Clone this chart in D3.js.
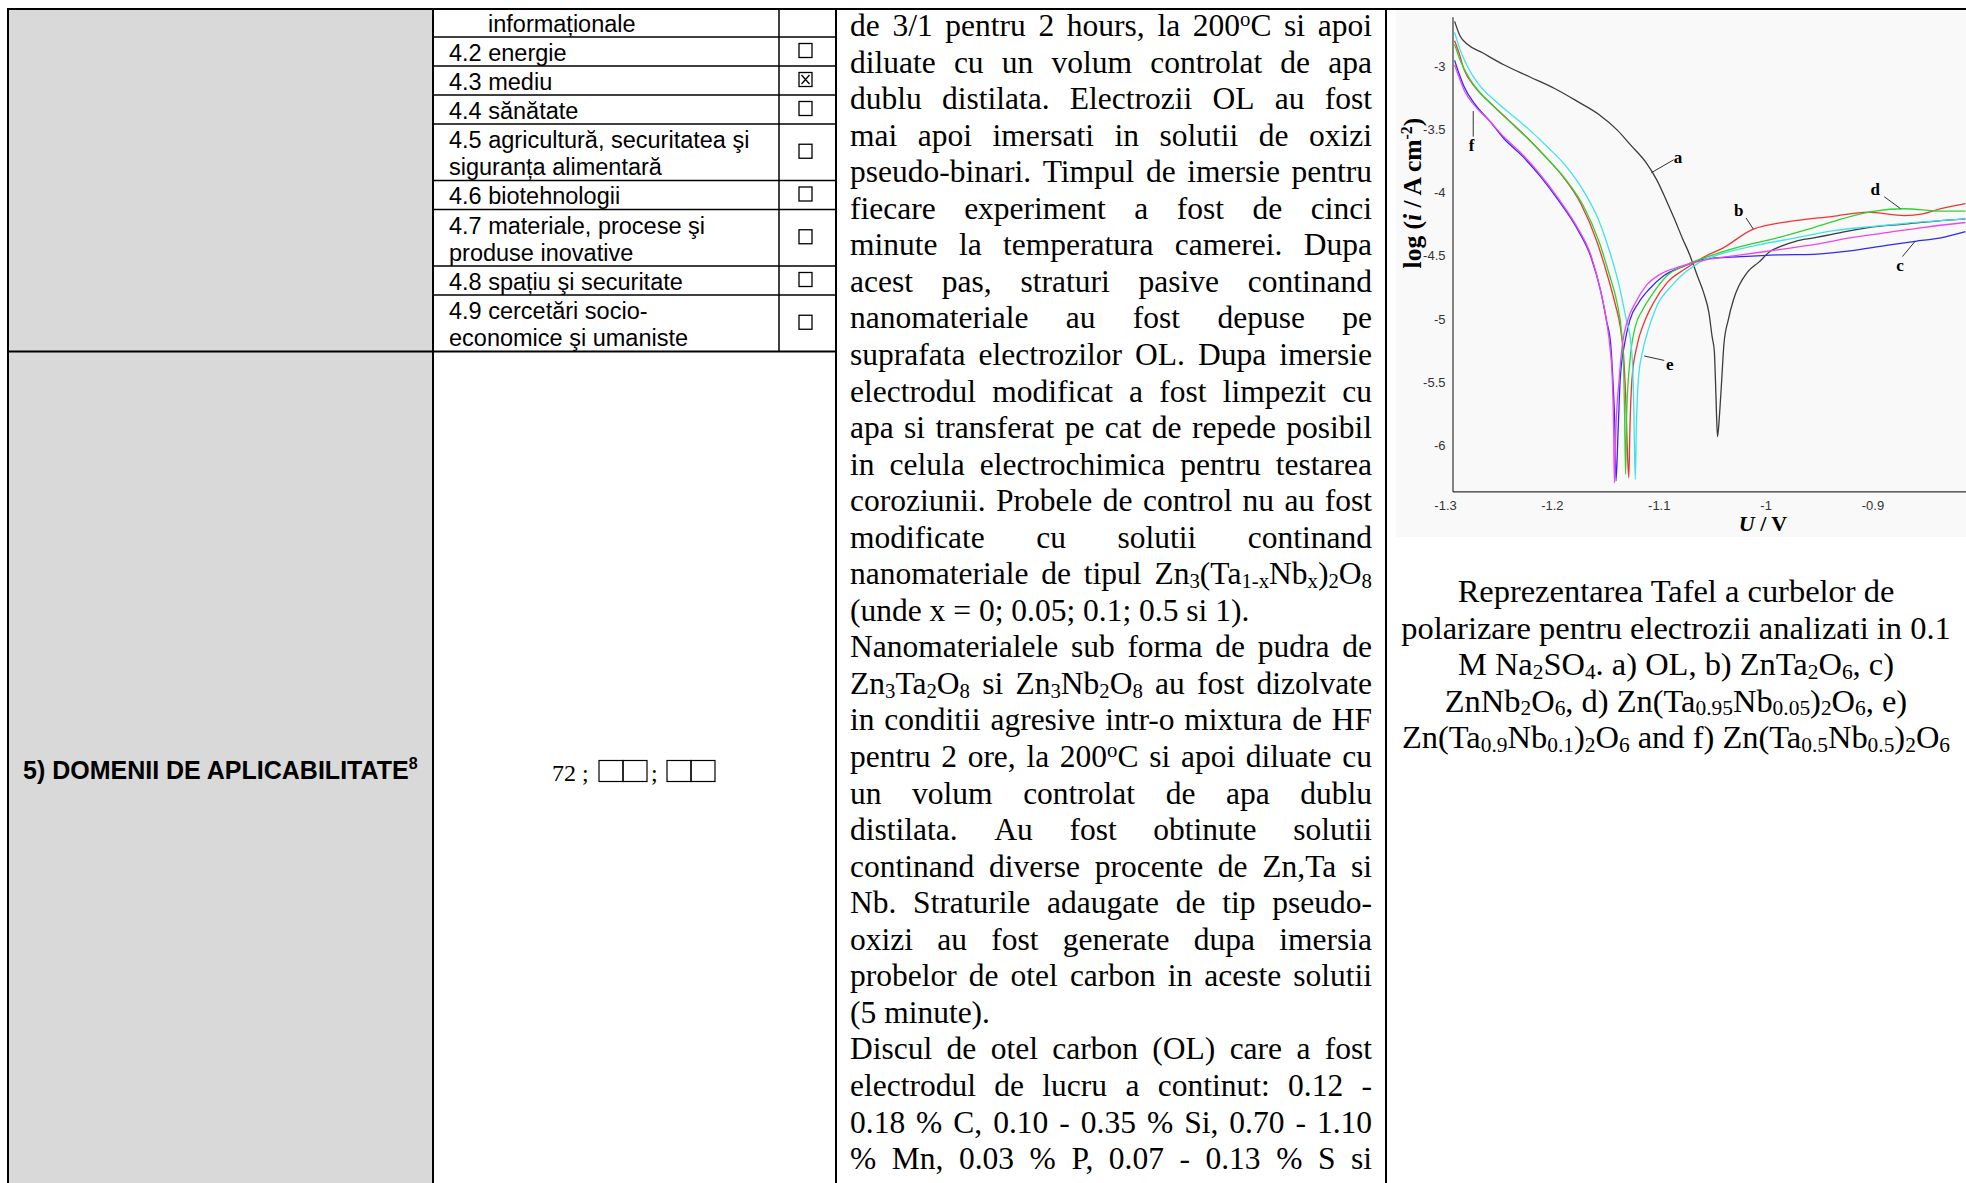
<!DOCTYPE html>
<html>
<head>
<meta charset="utf-8">
<script src="https://cdn.jsdelivr.net/npm/d3@7"></script>
<style>
  body { margin: 0; background: #fff; }
  svg { display: block; }
</style>
</head>
<body>
<script>
// ---------- data ----------
// left table: domain rows (lines of text) and checkbox state
const domainRows = [
    ['informaționale'],
    ['4.2 energie'],
    ['4.3 mediu'],
    ['4.4 sănătate'],
    ['4.5 agricultură, securitatea şi', 'siguranța alimentară'],
    ['4.6 biotehnologii'],
    ['4.7 materiale, procese şi', 'produse inovative'],
    ['4.8 spațiu şi securitate'],
    ['4.9 cercetări socio-', 'economice şi umaniste']
];
const domainChecked = [null, false, true, false, false, false, false, false, false];

const sectionTitle = '5) DOMENII DE APLICABILITATE';
const sectionNote = '8';
const sectionCode = '72';

// body text, one entry per printed line; _{..} subscript, ^{..} superscript
const bodyLines = [
    'de 3/1 pentru 2 hours, la 200^{o}C si apoi',
    'diluate cu un volum controlat de apa',
    'dublu distilata. Electrozii OL au fost',
    'mai apoi imersati in solutii de oxizi',
    'pseudo-binari. Timpul de imersie pentru',
    'fiecare experiment a fost de cinci',
    'minute la temperatura camerei. Dupa',
    'acest pas, straturi pasive continand',
    'nanomateriale au fost depuse pe',
    'suprafata electrozilor OL. Dupa imersie',
    'electrodul modificat a fost limpezit cu',
    'apa si transferat pe cat de repede posibil',
    'in celula electrochimica pentru testarea',
    'coroziunii. Probele de control nu au fost',
    'modificate cu solutii continand',
    'nanomateriale de tipul Zn_{3}(Ta_{1-x}Nb_{x})_{2}O_{8}',
    '(unde x = 0; 0.05; 0.1; 0.5 si 1).',
    'Nanomaterialele sub forma de pudra de',
    'Zn_{3}Ta_{2}O_{8} si Zn_{3}Nb_{2}O_{8} au fost dizolvate',
    'in conditii agresive intr-o mixtura de HF',
    'pentru 2 ore, la 200^{o}C si apoi diluate cu',
    'un volum controlat de apa dublu',
    'distilata. Au fost obtinute solutii',
    'continand diverse procente de Zn,Ta si',
    'Nb. Straturile adaugate de tip pseudo-',
    'oxizi au fost generate dupa imersia',
    'probelor de otel carbon in aceste solutii',
    '(5 minute).',
    'Discul de otel carbon (OL) care a fost',
    'electrodul de lucru a continut: 0.12 -',
    '0.18 % C, 0.10 - 0.35 % Si, 0.70 - 1.10',
    '% Mn, 0.03 % P, 0.07 - 0.13 % S si'
];
const paragraphEnds = [16, 27];

const captionLines = [
    'Reprezentarea Tafel a curbelor de',
    'polarizare pentru electrozii analizati in 0.1',
    'M Na_{2}SO_{4}. a) OL, b) ZnTa_{2}O_{6}, c)',
    'ZnNb_{2}O_{6}, d) Zn(Ta_{0.95}Nb_{0.05})_{2}O_{6}, e)',
    'Zn(Ta_{0.9}Nb_{0.1})_{2}O_{6} and f) Zn(Ta_{0.5}Nb_{0.5})_{2}O_{6}'
];

// chart: U / V against log(i / A cm-2)
const voltTicks = [-1.3, -1.2, -1.1, -1.0, -0.9];
const logTicks = [-3, -3.5, -4, -4.5, -5, -5.5, -6];
const voltRange = [-1.293, -0.8125];
const logRange = [-2.606, -6.367];

const curveA = [
    [-1.291, -2.642], [-1.286, -2.756], [-1.279, -2.824], [-1.265, -2.891], [-1.245, -2.986],
    [-1.221, -3.081], [-1.197, -3.176], [-1.177, -3.272], [-1.156, -3.380], [-1.139, -3.502],
    [-1.126, -3.625], [-1.112, -3.760], [-1.102, -3.896], [-1.093, -4.059], [-1.086, -4.195],
    [-1.078, -4.358], [-1.071, -4.493], [-1.064, -4.656], [-1.058, -4.792], [-1.053, -4.955],
    [-1.050, -5.145], [-1.048, -5.254], [-1.047, -5.471], [-1.046, -5.742], [-1.045, -5.932],
    [-1.043, -5.742], [-1.041, -5.471], [-1.039, -5.199], [-1.035, -5.009], [-1.030, -4.846],
    [-1.025, -4.738], [-1.017, -4.629], [-1.006, -4.548], [-0.996, -4.466], [-0.986, -4.425],
    [-0.972, -4.385], [-0.955, -4.358], [-0.938, -4.330], [-0.904, -4.276], [-0.870, -4.249],
    [-0.836, -4.222], [-0.813, -4.208]
];
const curveB = [
    [-1.291, -2.796], [-1.287, -2.891], [-1.282, -3.027], [-1.272, -3.163], [-1.258, -3.285],
    [-1.241, -3.421], [-1.224, -3.557], [-1.207, -3.706], [-1.190, -3.869], [-1.173, -4.086],
    [-1.158, -4.385], [-1.148, -4.656], [-1.141, -4.874], [-1.136, -5.064], [-1.133, -5.281],
    [-1.131, -5.607], [-1.129, -6.123], [-1.128, -6.258], [-1.127, -5.878], [-1.125, -5.471],
    [-1.120, -5.199], [-1.114, -5.036], [-1.105, -4.874], [-1.092, -4.711], [-1.075, -4.602],
    [-1.057, -4.507], [-1.040, -4.439], [-1.012, -4.290], [-0.972, -4.222], [-0.938, -4.189],
    [-0.904, -4.154], [-0.870, -4.181], [-0.853, -4.168], [-0.836, -4.127], [-0.813, -4.086]
];
const curveC = [
    [-1.291, -2.951], [-1.287, -3.054], [-1.282, -3.163], [-1.272, -3.299], [-1.258, -3.434],
    [-1.245, -3.570], [-1.228, -3.706], [-1.211, -3.869], [-1.194, -4.059], [-1.177, -4.276],
    [-1.163, -4.521], [-1.154, -4.792], [-1.149, -5.009], [-1.145, -5.199], [-1.143, -5.471],
    [-1.141, -5.878], [-1.140, -6.285], [-1.138, -5.878], [-1.136, -5.471], [-1.132, -5.199],
    [-1.127, -5.009], [-1.119, -4.874], [-1.109, -4.765], [-1.095, -4.656], [-1.078, -4.588],
    [-1.057, -4.526], [-1.023, -4.507], [-0.989, -4.493], [-0.955, -4.488], [-0.921, -4.461],
    [-0.887, -4.417], [-0.860, -4.385], [-0.836, -4.358], [-0.813, -4.309]
];
const curveD = [
    [-1.291, -2.824], [-1.286, -2.946], [-1.279, -3.068], [-1.269, -3.190], [-1.255, -3.312],
    [-1.238, -3.448], [-1.221, -3.584], [-1.204, -3.733], [-1.187, -3.896], [-1.170, -4.113],
    [-1.156, -4.385], [-1.146, -4.656], [-1.139, -4.874], [-1.135, -5.091], [-1.133, -5.335],
    [-1.132, -5.742], [-1.131, -6.231], [-1.130, -5.742], [-1.127, -5.335], [-1.122, -5.064],
    [-1.115, -4.928], [-1.105, -4.792], [-1.092, -4.656], [-1.075, -4.575], [-1.054, -4.507],
    [-1.023, -4.426], [-0.989, -4.358], [-0.955, -4.276], [-0.921, -4.189], [-0.898, -4.146],
    [-0.870, -4.127], [-0.836, -4.146], [-0.813, -4.146]
];
const curveE = [
    [-1.291, -2.729], [-1.286, -2.864], [-1.279, -3.000], [-1.269, -3.136], [-1.255, -3.258],
    [-1.238, -3.380], [-1.221, -3.502], [-1.204, -3.638], [-1.187, -3.787], [-1.170, -3.991],
    [-1.156, -4.222], [-1.146, -4.466], [-1.137, -4.738], [-1.131, -4.982], [-1.126, -5.199],
    [-1.124, -5.471], [-1.123, -5.878], [-1.122, -6.272], [-1.121, -5.878], [-1.119, -5.471],
    [-1.115, -5.254], [-1.110, -5.091], [-1.102, -4.901], [-1.088, -4.738], [-1.075, -4.629],
    [-1.061, -4.548], [-1.040, -4.480], [-1.006, -4.412], [-0.972, -4.358], [-0.938, -4.303],
    [-0.904, -4.271], [-0.870, -4.244], [-0.813, -4.208]
];
const curveF = [
    [-1.291, -2.986], [-1.287, -3.082], [-1.282, -3.190], [-1.272, -3.312], [-1.258, -3.434],
    [-1.245, -3.557], [-1.228, -3.692], [-1.211, -3.855], [-1.194, -4.045], [-1.177, -4.263],
    [-1.163, -4.507], [-1.154, -4.792], [-1.149, -5.009], [-1.146, -5.199], [-1.1435, -5.471],
    [-1.1422, -5.878], [-1.1415, -6.299], [-1.1401, -5.878], [-1.137, -5.471], [-1.134, -5.199],
    [-1.129, -5.009], [-1.122, -4.874], [-1.112, -4.738], [-1.098, -4.643], [-1.081, -4.588],
    [-1.057, -4.534], [-1.023, -4.493], [-0.989, -4.453], [-0.955, -4.412], [-0.921, -4.358],
    [-0.887, -4.317], [-0.853, -4.276], [-0.813, -4.236]
];

const curveNames = ['a', 'b', 'c', 'd', 'e', 'f'];
const labelAt = [[-1.082, -3.720], [-1.0252, -4.140], [-0.8743, -4.575], [-0.8975, -3.972], [-1.0897, -5.362], [-1.2752, -3.624]];
const leaderFrom = [[-1.086, -3.739], [-1.0183, -4.200], [-0.872, -4.506], [-0.889, -4.032], [-1.0949, -5.329], [-1.2736, -3.556]];
const leaderTo = [[-1.107, -3.842], [-1.0115, -4.289], [-0.860, -4.384], [-0.8736, -4.127], [-1.1136, -5.294], [-1.2736, -3.353]];

// ---------- styles ----------
const SANS = "'Liberation Sans', Arial, sans-serif";
const SERIF = "'Liberation Serif', 'Times New Roman', serif";
const curveColors = ['#3c3c3c', '#f03434', '#2c2cf0', '#2ed42e', '#3ee4ea', '#f044f0'];
const bodySize = 31.5;
const captionStretch = 1.03;   // caption runs a little wider than the body text

const W = 1966, H = 1183;
const svg = d3.select('body').append('svg').attr('width', W).attr('height', H);

// writes a string with _{sub} / ^{sup} markup into a text element as tspans
function rich(text, str, size) {
    var parts = str.split(/(_\{[^}]*\}|\^\{[^}]*\})/).filter(function (s) { return s.length; });
    var shift = 0;
    parts.forEach(function (p) {
        var t = p, dy = 0, fs = size;
        if (p.indexOf('_{') === 0) { t = p.slice(2, -1); dy = size * 0.12; fs = size * 0.66; }
        else if (p.indexOf('^{') === 0) { t = p.slice(2, -1); dy = -size * 0.33; fs = size * 0.66; }
        text.append('tspan').attr('dy', dy - shift).attr('font-size', fs).text(t);
        shift = dy;
    });
}

// one printed line, word by word, justified to the column width if asked
function textLine(g, str, x0, width, baseline, size, justify) {
    var words = str.split(' ');
    var nodes = words.map(function (w) {
        var t = g.append('text').attr('y', baseline).attr('font-size', size);
        rich(t, w, size);
        return t;
    });
    var widths = nodes.map(function (t) { return t.node().getComputedTextLength(); });
    var gap = (justify && words.length > 1) ? (width - d3.sum(widths)) / (words.length - 1) : size * 0.25;
    var cx = x0;
    nodes.forEach(function (t, i) {
        t.attr('x', cx);
        cx += widths[i] + gap;
    });
}

// ---------- left table ----------
var grid = svg.append('g').attr('stroke', '#000');
svg.insert('rect', 'g').attr('x', 8).attr('y', 9).attr('width', 425).attr('height', H).attr('fill', '#d9d9d9');

var rowBounds = [9, 37];
domainRows.slice(1).forEach(function (r) {
    var last = rowBounds[rowBounds.length - 1];
    rowBounds.push(last + (r.length === 1 ? 29 : 56.5));
});

var tableText = svg.append('g').attr('font-family', SANS).attr('font-size', 23.5).attr('fill', '#000');
domainRows.forEach(function (r, i) {
    var top = rowBounds[i], bottom = rowBounds[i + 1];
    r.forEach(function (line, j) {
        tableText.append('text')
            .attr('x', i === 0 ? 488 : 449)
            .attr('y', bottom - 5.5 - (r.length - 1 - j) * 27)
            .text(line);
    });
    if (domainChecked[i] !== null) {
        var cy = (top + bottom) / 2 - 1;
        grid.append('rect')
            .attr('x', 799).attr('y', cy - 7).attr('width', 13).attr('height', 14)
            .attr('fill', 'none').attr('stroke-width', 1.3);
        if (domainChecked[i]) {
            grid.append('path')
                .attr('d', 'M' + 801.5 + ',' + (cy - 4.5) + 'L' + 809.5 + ',' + (cy + 4.5) +
                           'M' + 809.5 + ',' + (cy - 4.5) + 'L' + 801.5 + ',' + (cy + 4.5))
                .attr('stroke-width', 1.3);
        }
    }
    if (i < domainRows.length - 1) {
        grid.append('line').attr('x1', 433).attr('x2', 836).attr('y1', bottom).attr('y2', bottom).attr('stroke-width', 1.3);
    }
});
var sectionTop = rowBounds[rowBounds.length - 1];

// outer and column rules
grid.append('line').attr('x1', 7).attr('x2', W).attr('y1', 9).attr('y2', 9).attr('stroke-width', 2);
grid.append('line').attr('x1', 8).attr('x2', 836).attr('y1', sectionTop).attr('y2', sectionTop).attr('stroke-width', 2);
[8, 433, 836, 1386].forEach(function (x) {
    grid.append('line').attr('x1', x).attr('x2', x).attr('y1', 8).attr('y2', H).attr('stroke-width', 2);
});
grid.append('line').attr('x1', 779).attr('x2', 779).attr('y1', 9).attr('y2', sectionTop).attr('stroke-width', 1.5);

// section 5 row
var sec = svg.append('text').attr('x', 23).attr('y', 779)
    .attr('font-family', SANS).attr('font-weight', 'bold').attr('font-size', 25);
sec.append('tspan').text(sectionTitle);
sec.append('tspan').attr('dy', -10).attr('font-size', 16).text(sectionNote);

svg.append('text').attr('x', 552).attr('y', 781).attr('font-family', SERIF).attr('font-size', 24).text(sectionCode + ' ;');
svg.append('text').attr('x', 651).attr('y', 781).attr('font-family', SERIF).attr('font-size', 24).text(';');
[599, 623, 667, 691].forEach(function (x) {
    grid.append('rect').attr('x', x).attr('y', 760.5).attr('width', 24).attr('height', 21)
        .attr('fill', 'none').attr('stroke-width', 1.2);
});

// ---------- body text column ----------
var body = svg.append('g').attr('font-family', SERIF).attr('fill', '#000');
bodyLines.forEach(function (line, i) {
    textLine(body, line, 850, 522, 36 + i * 36.55, bodySize, paragraphEnds.indexOf(i) < 0);
});

// ---------- chart ----------
var chart = svg.append('g');
chart.append('rect').attr('x', 1396).attr('y', 10).attr('width', W - 1396).attr('height', 527).attr('fill', '#f9f9f9');

var x = d3.scaleLinear().domain(voltRange).range([1452.5, W]);
var y = d3.scaleLinear().domain(logRange).range([16.8, 491.4]);
var fmt = function (d) { return String(+d.toFixed(2)); };

var yAxis = chart.append('g')
    .attr('transform', 'translate(' + x(voltRange[0]) + ',0)')
    .call(d3.axisLeft(y).tickValues(logTicks).tickSize(0).tickSizeOuter(0).tickPadding(7).tickFormat(fmt));
var xAxis = chart.append('g')
    .attr('transform', 'translate(0,' + y(logRange[1]) + ')')
    .call(d3.axisBottom(x).tickValues(voltTicks).tickSize(0).tickSizeOuter(0).tickPadding(9).tickFormat(fmt));
[yAxis, xAxis].forEach(function (a) {
    a.select('.domain').attr('stroke', '#333').attr('stroke-width', 1.2);
    a.selectAll('text').attr('font-family', SANS).attr('font-size', 13).attr('fill', '#333');
});

var line = d3.line()
    .x(function (d) { return x(d[0]); })
    .y(function (d) { return y(d[1]); })
    .curve(d3.curveMonotoneX);

[curveA, curveB, curveC, curveD, curveE, curveF].forEach(function (pts, i) {
    chart.append('path').datum(pts)
        .attr('d', line)
        .attr('fill', 'none')
        .attr('stroke', curveColors[i])
        .attr('stroke-width', 1.3);
});

// curve letters and their leader lines
curveNames.forEach(function (name, i) {
    chart.append('line')
        .attr('x1', x(leaderFrom[i][0])).attr('y1', y(leaderFrom[i][1]))
        .attr('x2', x(leaderTo[i][0])).attr('y2', y(leaderTo[i][1]))
        .attr('stroke', '#333').attr('stroke-width', 1);
    chart.append('text')
        .attr('x', x(labelAt[i][0])).attr('y', y(labelAt[i][1]))
        .attr('text-anchor', 'middle').attr('dominant-baseline', 'central')
        .attr('font-family', SERIF).attr('font-weight', 'bold').attr('font-size', 17)
        .text(name);
});

// axis titles
var xTitle = chart.append('text').attr('x', 1763).attr('y', 531).attr('text-anchor', 'middle')
    .attr('font-family', SERIF).attr('font-weight', 'bold').attr('font-size', 22);
xTitle.append('tspan').attr('font-style', 'italic').text('U');
xTitle.append('tspan').text(' / V');

var yTitle = chart.append('text')
    .attr('transform', 'translate(1421,193) rotate(-90)')
    .attr('text-anchor', 'middle')
    .attr('font-family', SERIF).attr('font-weight', 'bold').attr('font-size', 25.5);
yTitle.append('tspan').text('log (');
yTitle.append('tspan').attr('font-style', 'italic').text('i');
yTitle.append('tspan').text(' / A cm');
yTitle.append('tspan').attr('dy', -9.5).attr('font-size', 16).text('-2');
yTitle.append('tspan').attr('dy', 9.5).text(')');

// caption under the chart
var caption = svg.append('g').attr('font-family', SERIF).attr('fill', '#000');
captionLines.forEach(function (c, i) {
    var t = caption.append('text').attr('x', 1676).attr('y', 602 + i * 36.5)
        .attr('text-anchor', 'middle').attr('font-size', bodySize);
    rich(t, c, bodySize);
    t.attr('textLength', t.node().getComputedTextLength() * captionStretch)
        .attr('lengthAdjust', 'spacingAndGlyphs');
});
</script>
</body>
</html>
